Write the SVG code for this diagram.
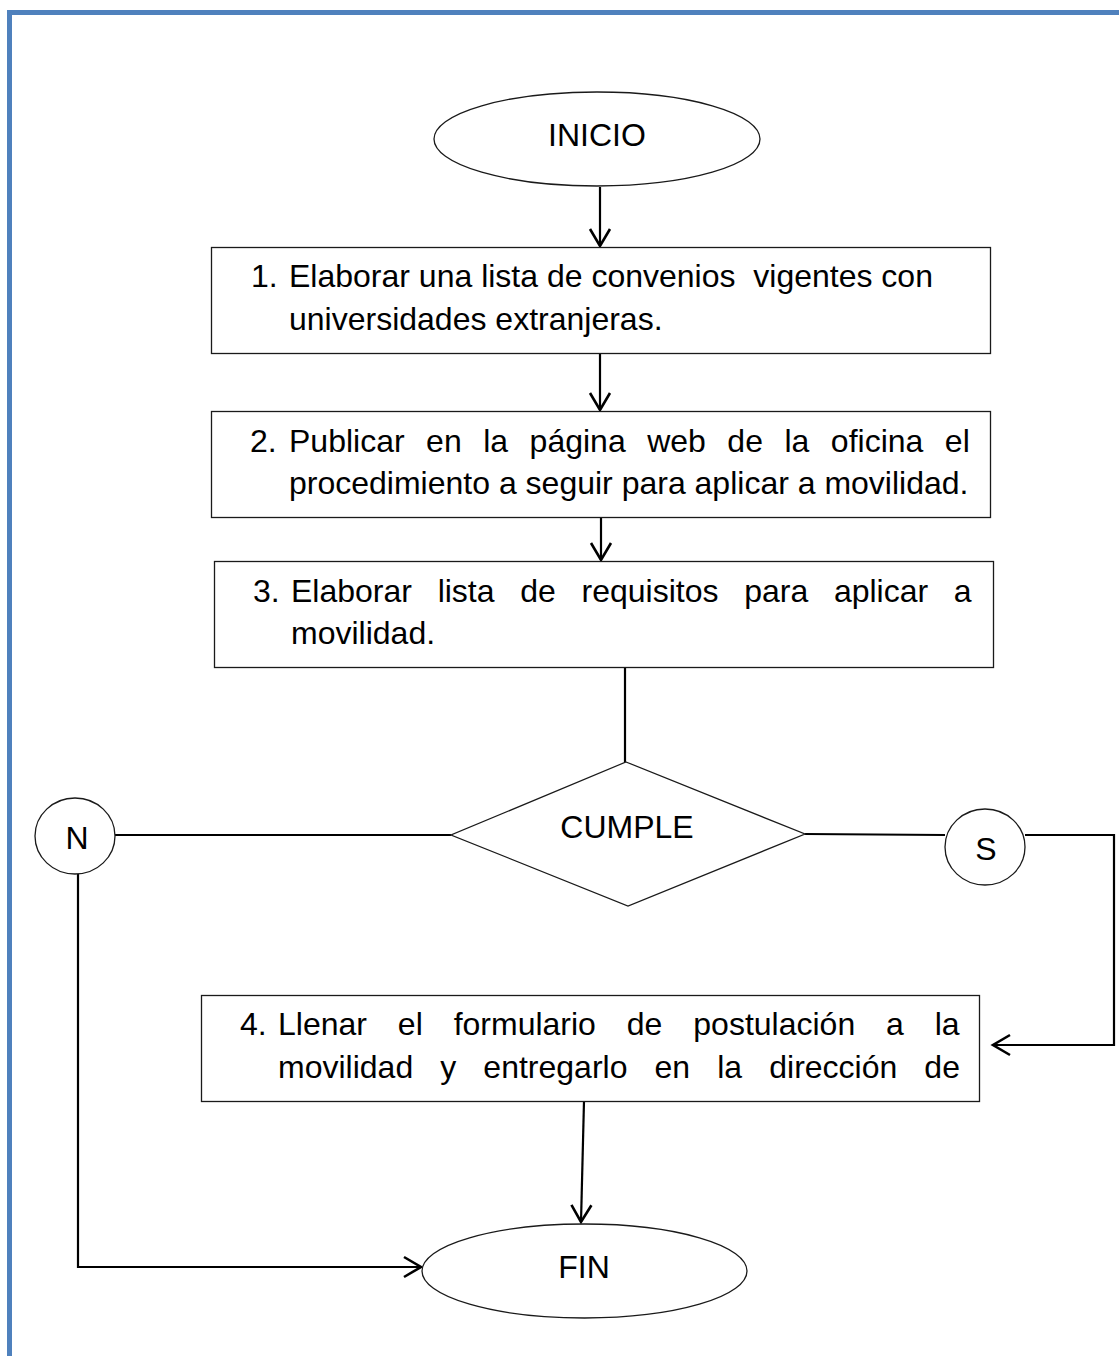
<svg xmlns="http://www.w3.org/2000/svg" width="1119" height="1356" viewBox="0 0 1119 1356">
<style>
.t{font-family:"Liberation Sans",Arial,sans-serif;font-size:32px;fill:#000}
.c{text-anchor:middle}
.shape{fill:#fff;stroke:#1a1a1a;stroke-width:1.3}
.conn{fill:none;stroke:#000;stroke-width:2.2}
</style>
<defs>
<marker id="arr" viewBox="0 0 24 24" markerWidth="24" markerHeight="24" refX="19" refY="12" orient="auto" markerUnits="userSpaceOnUse">
<path d="M2,2 L19,12 L2,22" fill="none" stroke="#000" stroke-width="2.6"/>
</marker>
</defs>
<rect width="1119" height="1356" fill="#fff"/>
<g id="border">
<path d="M9.5,1356 V12.5 H1119" fill="none" stroke="#4F81BD" stroke-width="5"/>
</g>
<g id="connectors">
<path class="conn" d="M600,187 V246" marker-end="url(#arr)"/>
<path class="conn" d="M600,353 V410" marker-end="url(#arr)"/>
<path class="conn" d="M601,517 V560" marker-end="url(#arr)"/>
<path class="conn" d="M625,667 V762"/>
<path class="conn" d="M451,835 H115"/>
<path class="conn" d="M805,834 L945,835"/>
<path class="conn" d="M1025,835 H1114 V1045 H993" marker-end="url(#arr)"/>
<path class="conn" d="M78,874 V1267 H421" marker-end="url(#arr)"/>
<path class="conn" d="M584,1101 L581,1222" marker-end="url(#arr)"/>
</g>
<g id="inicio">
<ellipse class="shape" cx="597" cy="139" rx="163" ry="47"/>
<text class="t c" x="597" y="146">INICIO</text>
</g>
<g id="step1">
<rect class="shape" x="211.5" y="247.5" width="779" height="106"/>
<text class="t" x="251" y="287">1.</text>
<text class="t" x="289" y="287" xml:space="preserve">Elaborar una lista de convenios  vigentes con</text>
<text class="t" x="289" y="330">universidades extranjeras.</text>
</g>
<g id="step2">
<rect class="shape" x="211.5" y="411.5" width="779" height="106"/>
<text class="t" x="250" y="452">2.</text>
<text class="t" x="289" y="452" style="word-spacing:12.6px">Publicar en la página web de la oficina el</text>
<text class="t" x="289" y="494">procedimiento a seguir para aplicar a movilidad.</text>
</g>
<g id="step3">
<rect class="shape" x="214.5" y="561.5" width="779" height="106"/>
<text class="t" x="253" y="602">3.</text>
<text class="t" x="291" y="602" style="word-spacing:16.8px">Elaborar lista de requisitos para aplicar a</text>
<text class="t" x="291" y="644">movilidad.</text>
</g>
<g id="decision">
<polygon class="shape" points="626,762 805,834 628,906 451,835"/>
<text class="t c" x="627" y="838">CUMPLE</text>
</g>
<g id="no">
<ellipse class="shape" cx="75" cy="836" rx="40" ry="38"/>
<text class="t c" x="77" y="849">N</text>
</g>
<g id="si">
<ellipse class="shape" cx="985" cy="847" rx="40" ry="38"/>
<text class="t c" x="986" y="860">S</text>
</g>
<g id="step4">
<rect class="shape" x="201.5" y="995.5" width="778" height="106"/>
<text class="t" x="240" y="1035">4.</text>
<text class="t" x="278" y="1035" style="word-spacing:22px">Llenar el formulario de postulación a la</text>
<text class="t" x="278" y="1078" style="word-spacing:18.2px">movilidad y entregarlo en la dirección de</text>
</g>
<g id="fin">
<ellipse class="shape" cx="584.5" cy="1271" rx="162.5" ry="47"/>
<text class="t c" x="584" y="1278">FIN</text>
</g>
</svg>
